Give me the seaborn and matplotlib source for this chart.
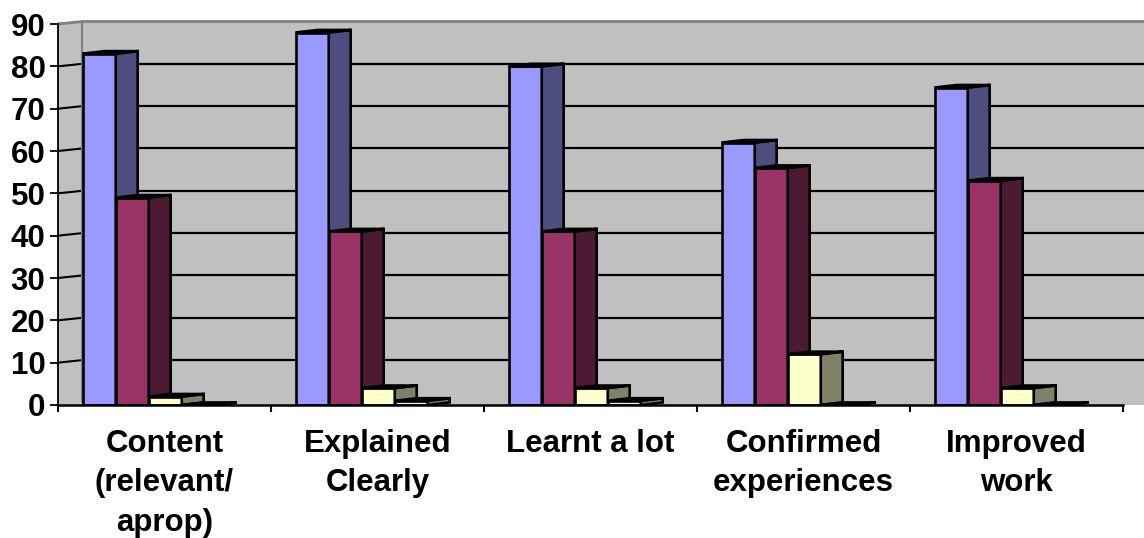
import pandas as pd
import numpy as np
import matplotlib.pyplot as plt
import seaborn as sns
from matplotlib.patches import Polygon

categories = ["Content\n(relevant/\naprop)", "Explained\nClearly", "Learnt a lot",
              "Confirmed\nexperiences", "Improved\nwork"]
series = ["Series 1", "Series 2", "Series 3", "Series 4"]
s1 = [83, 88, 80, 62, 75]
s2 = [49, 41, 41, 56, 53]
s3 = [2, 4, 4, 12, 4]
s4 = [0, 1, 1, 0, 0]
y_ticks = list(range(0, 100, 10))

front_colors = ["#9999FF", "#993366", "#FFFFCC", "#CCFFFF"]
side_colors = ["#4D4D80", "#4D1A33", "#808066", "#668080"]

df = pd.DataFrame({
    "category": categories * len(series),
    "series": np.repeat(series, len(categories)),
    "value": s1 + s2 + s3 + s4,
})

sns.set_style("white")
plt.rcParams["font.family"] = ["Liberation Sans", "DejaVu Sans"]
plt.rcParams["font.weight"] = "bold"
plt.rcParams["text.color"] = "black"
plt.rcParams["xtick.color"] = "black"
plt.rcParams["ytick.color"] = "black"
plt.rcParams["xtick.labelcolor"] = "black"
plt.rcParams["ytick.labelcolor"] = "black"

W, H = 1144, 538
fig = plt.figure(figsize=(W / 100, H / 100), dpi=100)
ax = fig.add_axes([58 / W, 1 - 405 / H, 1 - 58 / W, (405 - 21.5) / H])
ax.set_facecolor("#C0C0C0")

# fake 3d: depth of bars / walls in data units
depth = 0.103
rise = 0.6
wall = -0.5 + 24 / 213
x_right = -0.5 + 1086 / 213

# left wall + back wall gridlines
for v in y_ticks[1:-1]:
    ax.plot([-0.5, wall], [v, v + rise], color="black", lw=1.5, zorder=1)
    ax.plot([wall, x_right], [v + rise] * 2, color="black", lw=1.6, zorder=1)
ax.plot([-0.5, wall, x_right], [90, 90 + rise, 90 + rise], color="#808080",
        lw=2, zorder=1, clip_on=False)
ax.plot([wall, wall], [rise, 90 + rise], color="#808080", lw=1.5, zorder=1)

sns.barplot(df, x="category", y="value", hue="series", palette=front_colors,
            width=0.62, edgecolor="black", linewidth=1.9, legend=False,
            saturation=1, ax=ax)

for k, cont in enumerate(ax.containers):
    for bar in cont:
        bar.set_x(bar.get_x() - 0.074)
        bar.set_zorder(3 + 2 * k)
        x, w, h = bar.get_x(), bar.get_width(), bar.get_height()
        side = Polygon([(x + w, 0), (x + w + depth, rise), (x + w + depth, h + rise), (x + w, h)],
                       closed=True, facecolor=side_colors[k], edgecolor="black",
                       lw=1.9, zorder=4 + 2 * k)
        top = Polygon([(x, h), (x + depth, h + rise), (x + w + depth, h + rise), (x + w, h)],
                      closed=True, facecolor=front_colors[k], edgecolor="black",
                      lw=1.9, zorder=4 + 2 * k)
        ax.add_patch(side)
        ax.add_patch(top)

ax.set_xlim(-0.5, x_right)
ax.set_ylim(0, 90 + rise)
ax.set_yticks(y_ticks)
ax.set_xticks(range(len(categories)))
ax.set_xticklabels(categories, fontsize=22.5, fontweight="bold", linespacing=1.42,
                   color="black")
ax.set_xticks(np.arange(-0.5, len(categories), 1), minor=True)
ax.tick_params(axis="y", labelsize=22.5, length=6, width=1.3, pad=3, direction="out",
               left=True, colors="black")
ax.tick_params(axis="x", which="major", length=0, pad=17, colors="black")
ax.tick_params(axis="x", which="minor", length=5, width=1.5, direction="out",
               bottom=True, colors="black")
for lab in ax.get_yticklabels():
    lab.set_fontweight("bold")
ax.set_xlabel("")
ax.set_ylabel("")

for s in ["top", "right"]:
    ax.spines[s].set_visible(False)
ax.spines["left"].set_bounds(0, 90)
ax.spines["left"].set_color("black")
ax.spines["left"].set_linewidth(1.3)
ax.spines["bottom"].set_bounds(-0.5, 4.5)
ax.spines["bottom"].set_color("black")
ax.spines["bottom"].set_linewidth(1.8)
ax.spines["bottom"].set_zorder(20)

fig.savefig("out.png", dpi=100)
